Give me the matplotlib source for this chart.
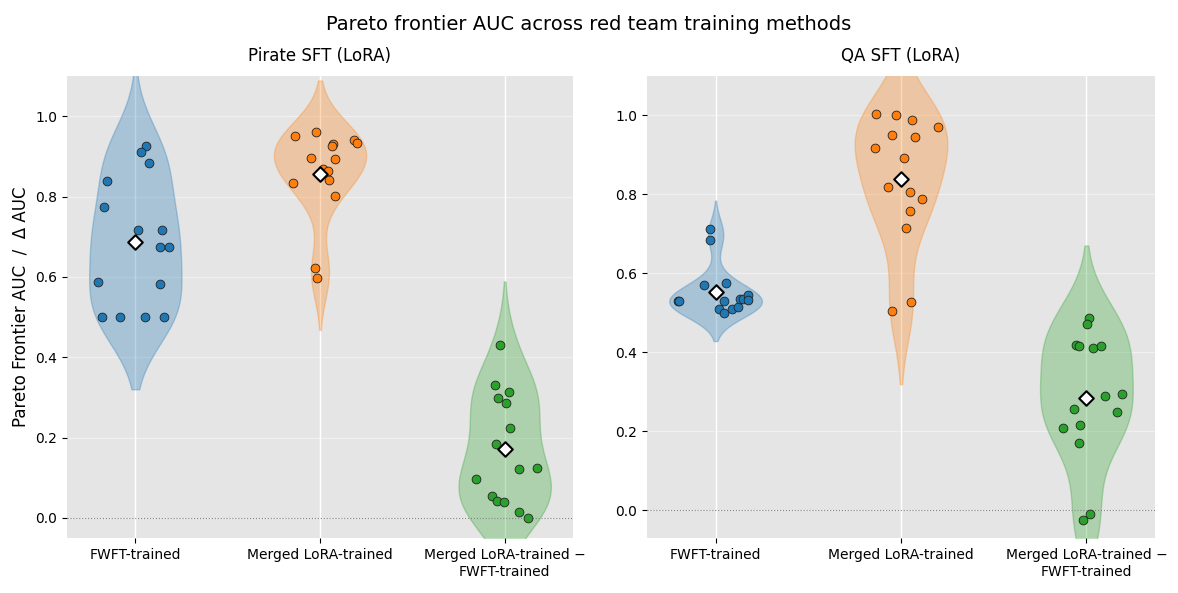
import numpy as np
import matplotlib
matplotlib.use("Agg")
import matplotlib.pyplot as plt

# ---------------- data ----------------
categories = ["FWFT-trained", "Merged LoRA-trained", "Merged LoRA-trained \u2212\nFWFT-trained"]
panel_titles = ["Pirate SFT (LoRA)", "QA SFT (LoRA)"]
colors = ["#1f77b4", "#ff7f0e", "#2ca02c"]

pirate_fwft = [0.927, 0.911, 0.883, 0.839, 0.774, 0.716, 0.716, 0.675, 0.675,
               0.586, 0.583, 0.501, 0.501, 0.501, 0.501]
pirate_fwft_jit = [0.058, 0.029, 0.072, -0.155, -0.171, 0.016, 0.144, 0.131, 0.182,
                   -0.203, 0.136, -0.182, -0.085, 0.052, 0.155]
pirate_merged = [0.950, 0.960, 0.930, 0.925, 0.940, 0.933, 0.897, 0.893, 0.869,
                 0.864, 0.834, 0.841, 0.801, 0.622, 0.597]
pirate_merged_jit = [-0.133, -0.020, 0.068, 0.065, 0.183, 0.201, -0.047, 0.082, 0.018,
                     0.045, -0.144, 0.050, 0.082, -0.025, -0.015]
pirate_diff = [0.431, 0.332, 0.314, 0.299, 0.285, 0.223, 0.185, 0.122, 0.124,
               0.098, 0.055, 0.042, 0.040, 0.015, 0.000]
pirate_diff_jit = [-0.025, -0.052, 0.023, -0.036, 0.007, 0.031, -0.047, 0.077, 0.174,
                   -0.155, -0.068, -0.042, -0.004, 0.077, 0.126]

qa_fwft = [0.712, 0.684, 0.570, 0.575, 0.529, 0.529, 0.529, 0.509, 0.501,
           0.509, 0.514, 0.536, 0.535, 0.545, 0.532]
qa_fwft_jit = [-0.031, -0.031, -0.061, 0.056, -0.205, -0.196, 0.045, 0.018, 0.047,
               0.088, 0.121, 0.134, 0.150, 0.177, 0.175]
qa_merged = [1.004, 1.000, 0.989, 0.972, 0.951, 0.946, 0.918, 0.892, 0.819,
             0.807, 0.788, 0.759, 0.715, 0.527, 0.506]
qa_merged_jit = [-0.135, -0.025, 0.061, 0.202, -0.047, 0.077, -0.139, 0.018, -0.069,
                 0.050, 0.115, 0.050, 0.029, 0.056, -0.047]
qa_diff = [0.486, 0.473, 0.418, 0.415, 0.412, 0.417, 0.290, 0.295, 0.257,
           0.250, 0.217, 0.209, 0.171, -0.010, -0.025]
qa_diff_jit = [0.012, 0.002, -0.058, -0.039, 0.036, 0.077, 0.099, 0.191, -0.066,
               0.164, -0.036, -0.128, -0.042, 0.018, -0.018]

panels = [
    ([pirate_fwft, pirate_merged, pirate_diff],
     [pirate_fwft_jit, pirate_merged_jit, pirate_diff_jit], (-0.05, 1.1)),
    ([qa_fwft, qa_merged, qa_diff],
     [qa_fwft_jit, qa_merged_jit, qa_diff_jit], (-0.07, 1.1)),
]


def kde_stats(vals, cut=2.0, npts=300):
    v = np.asarray(vals, float)
    bw = v.std(ddof=1) * len(v) ** (-1 / 5)
    coords = np.linspace(v.min() - cut * bw, v.max() + cut * bw, npts)
    dens = np.exp(-0.5 * ((coords[:, None] - v[None, :]) / bw) ** 2).sum(axis=1)
    return dict(coords=coords, vals=dens, mean=v.mean(), median=np.median(v),
                min=v.min(), max=v.max())


fig = plt.figure(figsize=(11.78, 5.93), dpi=100)
W, H = 1178, 593
boxes = [(67, 573), (647, 1155)]
top_px, bot_px = 76, 538

for pi, ((series, jits, ylim), (x0, x1)) in enumerate(zip(panels, boxes)):
    ax = fig.add_axes([x0 / W, 1 - bot_px / H, (x1 - x0) / W, (bot_px - top_px) / H])
    ax.set_facecolor("#E5E5E5")
    for s in ax.spines.values():
        s.set_visible(False)
    ax.set_axisbelow(True)
    ax.grid(True, axis="x", color="white", linewidth=1.0)
    ax.grid(True, axis="y", color="white", alpha=0.45, linewidth=0.9)

    positions = np.arange(len(categories))
    stats = [kde_stats(s) for s in series]
    parts = ax.violin(stats, positions=positions, widths=0.5,
                      showmeans=False, showextrema=False, showmedians=False)
    for body, c in zip(parts["bodies"], colors):
        body.set_facecolor(c)
        body.set_edgecolor(c)
        body.set_alpha(0.3)
        body.set_linewidth(1.0)

    ax.axhline(0, color="gray", linestyle=":", linewidth=0.8, zorder=1)

    for i, (s, j, c) in enumerate(zip(series, jits, colors)):
        ax.scatter(np.full(len(s), positions[i]) + np.asarray(j), s, s=40,
                   color=c, edgecolor="#222222", linewidth=0.6, zorder=3)
        ax.scatter([positions[i]], [np.mean(s)], marker="D", s=55, color="white",
                   edgecolor="black", linewidth=1.5, zorder=4)

    ax.set_xlim(-0.37, 2.37)
    ax.set_ylim(*ylim)
    ax.set_xticks(positions)
    ax.set_xticklabels(categories, fontsize=10, linespacing=1.3)
    ax.set_yticks([0.0, 0.2, 0.4, 0.6, 0.8, 1.0])
    ax.tick_params(axis="both", labelsize=10, colors="black", length=3.5)
    ax.set_title(panel_titles[pi], fontsize=12, pad=11)
    if pi == 0:
        ax.set_ylabel("Pareto Frontier AUC  /  \u0394 AUC", fontsize=12)

fig.suptitle("Pareto frontier AUC across red team training methods", fontsize=14, y=0.975)
fig.savefig("out.png", dpi=100)
